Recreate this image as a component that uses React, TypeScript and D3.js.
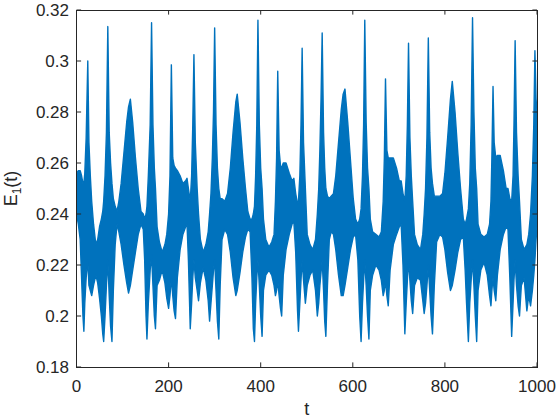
import React from 'react';
import * as d3 from 'd3';

// Envelope of the fast oscillation of E1(t)
const tKnots = [
  0, 4, 8, 11, 14, 16, 18, 21, 24.5, 27, 30, 33, 37, 42, 46, 50, 54, 57, 59, 62,
  65, 68, 71, 74, 77, 80, 84, 88, 92, 97, 103, 109, 113, 117, 122, 128, 134, 140, 145, 148,
  151, 153, 156, 160, 163, 166, 169, 171.5, 175, 180, 186, 192, 196, 200, 203, 206, 209, 212, 215, 219,
  225, 231, 237, 240, 243, 247, 250, 252.5, 255, 258, 262, 265, 269, 275, 281, 286, 289, 292, 295, 297.5,
  300, 303, 306, 309, 312, 316, 322, 328, 334, 340, 346, 349, 355, 361, 367, 372, 377, 381, 384, 386.5,
  389, 391.5, 394, 397, 400, 403, 406, 411, 418, 424, 429, 432, 434.5, 437, 440, 443, 445.5, 449, 455, 462,
  468, 472, 476, 480, 482, 485, 487.5, 490, 493, 497, 501, 507, 513, 519, 523, 526, 528.5, 531, 533.5, 536.5,
  539, 541.5, 545, 549, 553, 558, 563, 569, 575, 579, 583, 589, 595, 601, 606, 611, 615, 618, 621, 623.5,
  626, 629, 632, 635, 638, 643, 650, 657, 662, 666, 668.5, 671, 674, 677, 681, 688, 695, 701, 705, 709,
  713, 716, 718.5, 721, 724, 727, 730, 734, 740, 747, 752, 755, 758, 761, 764, 767, 770, 773, 777, 782,
  789, 795, 800, 806, 812, 816, 822, 828, 834, 840, 844, 847, 851, 854, 857, 860, 863, 866, 869, 872,
  878, 885, 892, 897, 900, 902, 904.5, 907, 910.5, 914, 920, 927, 933, 937, 941, 945, 948, 950, 952.5, 955.5,
  959, 962, 966, 972, 978, 982, 986, 990, 993, 995.5, 998, 1000,
];

const upperEnv = [
  0.256, 0.257, 0.257, 0.255, 0.252, 0.252, 0.256, 0.270, 0.300, 0.268, 0.255, 0.245, 0.236, 0.228, 0.230, 0.235, 0.238, 0.241, 0.245, 0.255,
  0.272, 0.3135, 0.272, 0.260, 0.252, 0.246, 0.243, 0.241, 0.245, 0.252, 0.264, 0.276, 0.282, 0.285, 0.276, 0.262, 0.250, 0.241, 0.240, 0.238,
  0.240, 0.243, 0.255, 0.275, 0.315, 0.275, 0.258, 0.250, 0.235, 0.229, 0.225, 0.228, 0.232, 0.240, 0.255, 0.2985, 0.262, 0.259, 0.258, 0.257,
  0.255, 0.252, 0.253, 0.254, 0.250, 0.245, 0.255, 0.275, 0.3025, 0.268, 0.250, 0.240, 0.230, 0.225, 0.228, 0.233, 0.240, 0.248, 0.262, 0.280,
  0.313, 0.275, 0.258, 0.250, 0.246, 0.246, 0.245, 0.248, 0.258, 0.272, 0.284, 0.287, 0.276, 0.262, 0.250, 0.241, 0.238, 0.238, 0.240, 0.243,
  0.255, 0.275, 0.316, 0.275, 0.258, 0.250, 0.238, 0.230, 0.227, 0.229, 0.232, 0.245, 0.262, 0.296, 0.265, 0.259, 0.258, 0.260, 0.260, 0.256,
  0.253, 0.254, 0.248, 0.244, 0.245, 0.255, 0.275, 0.305, 0.268, 0.250, 0.232, 0.228, 0.226, 0.230, 0.240, 0.250, 0.265, 0.285, 0.311, 0.272,
  0.258, 0.250, 0.247, 0.246, 0.247, 0.248, 0.255, 0.268, 0.281, 0.287, 0.289, 0.276, 0.261, 0.246, 0.238, 0.236, 0.238, 0.242, 0.255, 0.275,
  0.316, 0.276, 0.258, 0.250, 0.238, 0.233, 0.232, 0.231, 0.233, 0.245, 0.262, 0.293, 0.265, 0.262, 0.262, 0.262, 0.258, 0.253, 0.253, 0.248,
  0.245, 0.255, 0.275, 0.307, 0.270, 0.255, 0.245, 0.232, 0.228, 0.226, 0.232, 0.240, 0.250, 0.270, 0.309, 0.272, 0.258, 0.252, 0.247, 0.247,
  0.247, 0.248, 0.256, 0.270, 0.285, 0.292, 0.280, 0.264, 0.250, 0.238, 0.236, 0.238, 0.242, 0.252, 0.275, 0.317, 0.280, 0.258, 0.250, 0.236,
  0.232, 0.231, 0.232, 0.236, 0.245, 0.262, 0.290, 0.268, 0.262, 0.263, 0.263, 0.257, 0.250, 0.250, 0.246, 0.245, 0.255, 0.275, 0.308, 0.272,
  0.255, 0.245, 0.230, 0.226, 0.228, 0.232, 0.240, 0.255, 0.275, 0.304, 0.285, 0.280,
];

const lowerEnv = [
  0.240, 0.236, 0.230, 0.215, 0.200, 0.194, 0.205, 0.215, 0.222, 0.212, 0.210, 0.208, 0.212, 0.216, 0.213, 0.207, 0.200, 0.193, 0.190, 0.200,
  0.212, 0.222, 0.208, 0.196, 0.190, 0.210, 0.228, 0.236, 0.233, 0.228, 0.220, 0.213, 0.209, 0.212, 0.218, 0.225, 0.232, 0.236, 0.234, 0.222,
  0.200, 0.191, 0.205, 0.218, 0.224, 0.212, 0.200, 0.195, 0.212, 0.214, 0.218, 0.213, 0.207, 0.203, 0.208, 0.215, 0.208, 0.202, 0.199, 0.215,
  0.226, 0.232, 0.235, 0.236, 0.222, 0.195, 0.205, 0.215, 0.222, 0.215, 0.210, 0.206, 0.213, 0.219, 0.214, 0.206, 0.198, 0.205, 0.212, 0.218,
  0.222, 0.210, 0.198, 0.191, 0.212, 0.230, 0.234, 0.232, 0.225, 0.215, 0.208, 0.210, 0.217, 0.225, 0.231, 0.234, 0.233, 0.215, 0.195, 0.190,
  0.205, 0.215, 0.222, 0.212, 0.200, 0.192, 0.210, 0.216, 0.218, 0.216, 0.212, 0.208, 0.210, 0.214, 0.208, 0.203, 0.200, 0.216, 0.226, 0.232,
  0.236, 0.237, 0.225, 0.202, 0.194, 0.205, 0.214, 0.222, 0.214, 0.205, 0.212, 0.216, 0.218, 0.210, 0.200, 0.205, 0.212, 0.217, 0.222, 0.210,
  0.198, 0.192, 0.212, 0.230, 0.233, 0.232, 0.226, 0.216, 0.208, 0.208, 0.212, 0.219, 0.226, 0.231, 0.232, 0.222, 0.200, 0.190, 0.205, 0.214,
  0.222, 0.212, 0.200, 0.191, 0.210, 0.216, 0.220, 0.218, 0.214, 0.208, 0.210, 0.214, 0.208, 0.204, 0.218, 0.228, 0.232, 0.235, 0.236, 0.220,
  0.193, 0.205, 0.214, 0.222, 0.214, 0.206, 0.201, 0.212, 0.215, 0.214, 0.206, 0.201, 0.205, 0.212, 0.220, 0.210, 0.200, 0.193, 0.212, 0.229,
  0.232, 0.231, 0.226, 0.217, 0.210, 0.212, 0.218, 0.225, 0.230, 0.231, 0.218, 0.205, 0.190, 0.205, 0.214, 0.222, 0.212, 0.200, 0.190, 0.210,
  0.218, 0.221, 0.216, 0.208, 0.204, 0.210, 0.215, 0.210, 0.206, 0.216, 0.226, 0.232, 0.235, 0.234, 0.215, 0.192, 0.205, 0.214, 0.222, 0.212,
  0.204, 0.200, 0.212, 0.215, 0.202, 0.208, 0.204, 0.210, 0.216, 0.222, 0.230, 0.235,
];

const xTicks = [0, 200, 400, 600, 800, 1000];
const xTickLabels = ['0', '200', '400', '600', '800', '1000'];
const yTicks = [0.18, 0.2, 0.22, 0.24, 0.26, 0.28, 0.3, 0.32];
const yTickLabels = ['0.18', '0.2', '0.22', '0.24', '0.26', '0.28', '0.3', '0.32'];

export default function App() {
  const W = 560;
  const H = 420;
  const left = 76.5;
  const right = 537;
  const top = 10;
  const bottom = 367;
  const axisColor = '#262626';
  const lineColor = '#0072BD';
  const font = "'Liberation Sans', Arial, Helvetica, sans-serif";
  const fs = 17;
  const tickLen = 4.6;

  const x = d3.scaleLinear().domain([0, 1000]).range([left, right]);
  const y = d3.scaleLinear().domain([0.18, 0.32]).range([bottom, top]);

  const data = tKnots.map((t, i) => ({ t, u: upperEnv[i], l: lowerEnv[i] }));
  const area = d3
    .area<{ t: number; u: number; l: number }>()
    .x((d) => x(d.t))
    .y0((d) => y(d.l))
    .y1((d) => y(d.u))
    .curve(d3.curveLinear);

  return (
    <svg
      width={W}
      height={H}
      viewBox={`0 0 ${W} ${H}`}
      style={{ position: 'absolute', left: 0, top: 0, background: '#fff' }}
    >
      <rect x={0} y={0} width={W} height={H} fill="#fff" />
      <defs>
        <clipPath id="plotClip">
          <rect x={left} y={top - 1} width={right - left} height={bottom - top + 2} />
        </clipPath>
      </defs>
      <g clipPath="url(#plotClip)">
        <path
          d={area(data) || ''}
          fill={lineColor}
          stroke={lineColor}
          strokeWidth={1.4}
          strokeLinejoin="round"
        />
      </g>
      {/* box */}
      <rect
        x={left}
        y={top}
        width={right - left}
        height={bottom - top}
        fill="none"
        stroke={axisColor}
        strokeWidth={1}
        shapeRendering="crispEdges"
      />
      {/* x ticks */}
      {xTicks.map((v, i) => (
        <g key={'xt' + i}>
          <line x1={x(v)} x2={x(v)} y1={bottom} y2={bottom - tickLen} stroke={axisColor} strokeWidth={1} />
          <line x1={x(v)} x2={x(v)} y1={top} y2={top + tickLen} stroke={axisColor} strokeWidth={1} />
          <text
            x={x(v)}
            y={392}
            textAnchor="middle"
            fontFamily={font}
            fontSize={fs}
            fill={axisColor}
          >
            {xTickLabels[i]}
          </text>
        </g>
      ))}
      {/* y ticks */}
      {yTicks.map((v, i) => (
        <g key={'yt' + i}>
          <line x1={left} x2={left + tickLen} y1={y(v)} y2={y(v)} stroke={axisColor} strokeWidth={1} />
          <line x1={right} x2={right - tickLen} y1={y(v)} y2={y(v)} stroke={axisColor} strokeWidth={1} />
          <text
            x={69}
            y={y(v) + 6}
            textAnchor="end"
            fontFamily={font}
            fontSize={fs}
            fill={axisColor}
          >
            {yTickLabels[i]}
          </text>
        </g>
      ))}
      {/* axis labels */}
      <text
        x={(left + right) / 2}
        y={415}
        textAnchor="middle"
        fontFamily={font}
        fontSize={18}
        fill={axisColor}
      >
        t
      </text>
      <text
        transform={`translate(17, ${(top + bottom) / 2}) rotate(-90)`}
        textAnchor="middle"
        fontFamily={font}
        fontSize={18}
        fill={axisColor}
      >
        E
        <tspan fontSize={12} dy={4}>1</tspan>
        <tspan dy={-4}>(t)</tspan>
      </text>
    </svg>
  );
}
